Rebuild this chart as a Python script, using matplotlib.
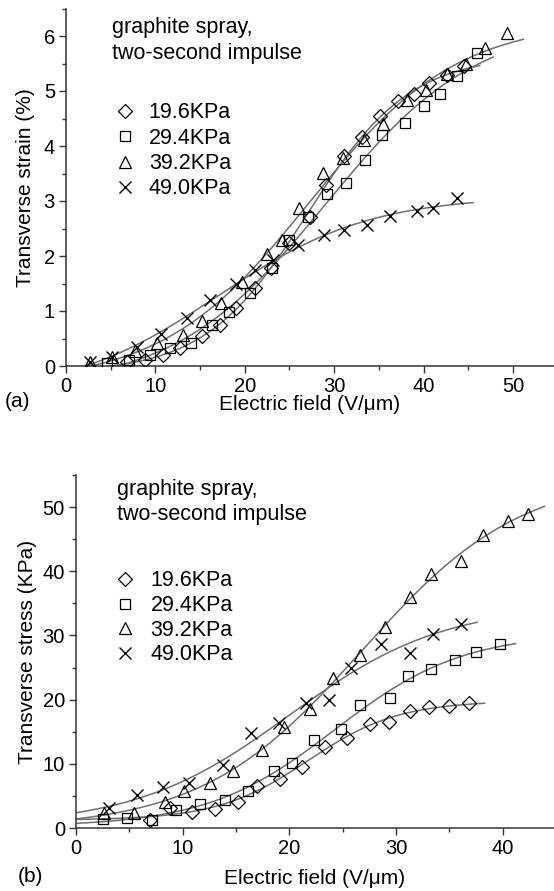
import numpy as np
import matplotlib
matplotlib.use("Agg")
import matplotlib.pyplot as plt
from matplotlib.lines import Line2D
from matplotlib.ticker import MultipleLocator

plt.rcParams['font.family'] = ['Liberation Sans', 'DejaVu Sans']

# ---------------- data: panel (a) transverse strain (%) ----------------
a_x_196 = [6.8, 8.85, 10.9, 12.8, 15.2, 17.2, 19.0, 21.2, 22.9, 24.9, 27.25, 29.1, 31.05, 33.1, 35.1, 37.1, 38.9, 40.6, 42.6, 44.5]
a_y_196 = [0.07, 0.11, 0.20, 0.32, 0.55, 0.75, 1.05, 1.41, 1.79, 2.23, 2.71, 3.29, 3.81, 4.17, 4.55, 4.81, 4.95, 5.14, 5.30, 5.45]

a_x_294 = [4.6, 7.0, 9.4, 11.6, 14.0, 16.3, 18.2, 20.6, 23.0, 24.9, 27.1, 29.2, 31.35, 33.5, 35.35, 37.95, 40.0, 41.9, 43.75, 46.0]
a_y_294 = [0.06, 0.11, 0.20, 0.32, 0.42, 0.75, 0.99, 1.32, 1.79, 2.29, 2.71, 3.13, 3.33, 3.75, 4.20, 4.41, 4.73, 4.94, 5.27, 5.69]

a_x_392 = [2.7, 5.2, 7.7, 10.2, 13.1, 15.2, 17.3, 19.7, 22.5, 24.15, 26.1, 28.7, 31.0, 33.3, 35.5, 38.15, 40.3, 42.6, 44.7, 46.85, 49.35]
a_y_392 = [0.08, 0.17, 0.28, 0.41, 0.56, 0.81, 1.15, 1.53, 2.04, 2.30, 2.87, 3.51, 3.79, 4.11, 4.40, 4.84, 5.02, 5.31, 5.50, 5.79, 6.05]

a_x_490 = [2.7, 5.2, 7.9, 10.6, 13.5, 16.1, 19.0, 21.1, 23.2, 26.0, 28.9, 31.05, 33.7, 36.3, 39.3, 41.1, 43.75]
a_y_490 = [0.08, 0.17, 0.35, 0.59, 0.87, 1.20, 1.50, 1.75, 1.93, 2.20, 2.39, 2.47, 2.56, 2.73, 2.82, 2.87, 3.05]

# ---------------- data: panel (b) transverse stress (KPa) ----------------
b_x_196 = [6.9, 8.8, 10.9, 13.0, 15.2, 17.0, 19.1, 21.2, 23.3, 25.4, 27.6, 29.3, 31.3, 33.1, 35.0, 36.8]
b_y_196 = [1.25, 3.1, 2.5, 2.9, 4.1, 6.5, 7.6, 9.5, 12.55, 14.1, 16.2, 16.5, 18.25, 18.8, 19.0, 19.4]

b_x_294 = [2.56, 4.75, 7.15, 9.4, 11.6, 14.0, 16.1, 18.6, 20.2, 22.3, 24.8, 26.6, 29.4, 31.1, 33.3, 35.5, 37.5, 39.7]
b_y_294 = [1.4, 1.5, 1.25, 2.8, 3.8, 4.35, 5.8, 8.9, 10.1, 13.7, 15.5, 19.1, 20.3, 23.7, 24.8, 26.1, 27.4, 28.6]

b_x_392 = [2.6, 5.4, 8.3, 10.1, 12.6, 14.7, 17.4, 19.5, 21.9, 24.1, 26.6, 29.0, 31.3, 33.3, 36.1, 38.1, 40.5, 42.4]
b_y_392 = [2.4, 2.3, 4.1, 5.8, 6.95, 8.9, 12.1, 15.8, 18.5, 23.4, 26.9, 31.3, 36.0, 39.5, 41.6, 45.7, 47.8, 49.0]

b_x_490 = [3.1, 5.75, 8.2, 10.6, 13.8, 16.4, 19.0, 21.6, 23.7, 25.8, 28.6, 31.3, 33.5, 36.1]
b_y_490 = [3.1, 5.1, 6.4, 7.0, 9.8, 14.8, 16.4, 19.5, 19.9, 24.9, 28.7, 27.3, 30.2, 31.8]

labels = ['19.6KPa', '29.4KPa', '39.2KPa', '49.0KPa']
markers = ['D', 's', '^', 'x']
msizes = [7, 7, 8.5, 9]

fig = plt.figure(figsize=(5.54, 8.91), dpi=100)
axA = fig.add_axes([66/554, (891-366)/891, 488/554, (366-8.5)/891])
axB = fig.add_axes([76/554, 63/891, 478/554, (828-475)/891])

line_col = '#6e6e6e'


def boltzmann_fit(x, y):
    """Least-squares Boltzmann sigmoid y = A2 + (A1-A2)/(1+exp((x-x0)/dx)),
    via grid search on (x0, dx) with A1, A2 solved linearly."""
    x = np.asarray(x, float); y = np.asarray(y, float)
    x0g = np.linspace(0, 90, 361)
    dxg = np.linspace(1, 45, 177)
    X0, DX = np.meshgrid(x0g, dxg, indexing='ij')
    X0 = X0.ravel()[:, None]; DX = DX.ravel()[:, None]
    f = 1.0 / (1.0 + np.exp((x[None, :] - X0) / DX))
    g = 1.0 - f
    a11 = (f * f).sum(1); a12 = (f * g).sum(1); a22 = (g * g).sum(1)
    b1 = (f * y).sum(1); b2 = (g * y).sum(1)
    det = a11 * a22 - a12 ** 2
    det = np.where(np.abs(det) < 1e-12, np.nan, det)
    A1 = (b1 * a22 - b2 * a12) / det
    A2 = (a11 * b2 - a12 * b1) / det
    pred = A1[:, None] * f + A2[:, None] * g
    sse = np.nansum((pred - y[None, :]) ** 2, 1)
    sse = np.where(np.isnan(A1), np.inf, sse)
    i = int(np.argmin(sse))
    p = (A1[i], A2[i], X0[i, 0], DX[i, 0])

    def fn(t):
        return p[1] + (p[0] - p[1]) / (1.0 + np.exp((t - p[2]) / p[3]))
    return fn


def draw(ax, xs_list, ys_list, ext):
    for xs, ys, m, ms in zip(xs_list, ys_list, markers, msizes):
        xs = np.asarray(xs); ys = np.asarray(ys)
        fn = boltzmann_fit(xs, ys)
        xf = np.linspace(0, xs.max() + ext, 300)
        ax.plot(xf, fn(xf), color=line_col, lw=1.1, zorder=2, clip_on=True)
        if m == 'x':
            ax.plot(xs, ys, ls='none', marker=m, ms=ms, mec='black', mew=1.0, zorder=3)
        else:
            ax.plot(xs, ys, ls='none', marker=m, ms=ms, mfc='none', mec='black', mew=0.9, zorder=3)


draw(axA, [a_x_196, a_x_294, a_x_392, a_x_490], [a_y_196, a_y_294, a_y_392, a_y_490], 1.8)
draw(axB, [b_x_196, b_x_294, b_x_392, b_x_490], [b_y_196, b_y_294, b_y_392, b_y_490], 1.5)

axA.set_xlim(0, 54.6)
axA.set_ylim(0, 6.5)
axB.set_xlim(0, 44.8)
axB.set_ylim(0, 55)

axA.xaxis.set_major_locator(MultipleLocator(10))
axA.xaxis.set_minor_locator(MultipleLocator(5))
axA.yaxis.set_major_locator(MultipleLocator(1))
axA.yaxis.set_minor_locator(MultipleLocator(0.5))
axB.xaxis.set_major_locator(MultipleLocator(10))
axB.xaxis.set_minor_locator(MultipleLocator(5))
axB.yaxis.set_major_locator(MultipleLocator(10))
axB.yaxis.set_minor_locator(MultipleLocator(5))

for ax in (axA, axB):
    for s in ('top', 'right'):
        ax.spines[s].set_visible(False)
    for s in ('left', 'bottom'):
        ax.spines[s].set_linewidth(1.1)
        ax.spines[s].set_color('#333333')
    ax.tick_params(which='major', direction='out', length=5, width=1.0, labelsize=14.5, color='#333333', pad=3)
    ax.tick_params(which='minor', direction='out', length=3, width=1.0, color='#333333')

axA.set_xlabel('Electric field (V/μm)', fontsize=15, labelpad=-1)
axB.set_xlabel('Electric field (V/μm)', fontsize=15, labelpad=8)
axA.set_ylabel('Transverse strain (%)', fontsize=15, labelpad=6)
axB.set_ylabel('Transverse stress (KPa)', fontsize=15, labelpad=4)

axA.text(0.094, 0.975, 'graphite spray,\ntwo-second impulse', transform=axA.transAxes,
         fontsize=15.5, va='top', ha='left', linespacing=1.28)
axB.text(0.085, 0.99, 'graphite spray,\ntwo-second impulse', transform=axB.transAxes,
         fontsize=15.5, va='top', ha='left', linespacing=1.28)


def make_handles():
    hs = []
    for m, ms in zip(markers, msizes):
        if m == 'x':
            hs.append(Line2D([], [], ls='none', marker=m, ms=ms, mec='black', mew=1.0))
        else:
            hs.append(Line2D([], [], ls='none', marker=m, ms=ms, mfc='none', mec='black', mew=0.9))
    return hs


fig.legend(handles=make_handles(), labels=labels, loc='upper left',
           bbox_to_anchor=(114.0/554, (891-102.5)/891), frameon=False, fontsize=15.5,
           borderpad=0, borderaxespad=0, handlelength=1.0, handletextpad=0.62, labelspacing=0.2)
fig.legend(handles=make_handles(), labels=labels, loc='upper left',
           bbox_to_anchor=(114.7/554, (891-570.5)/891), frameon=False, fontsize=15.5,
           borderpad=0, borderaxespad=0, handlelength=1.0, handletextpad=0.66, labelspacing=0.17)

fig.text(5/554, 1 - 402/891, '(a)', fontsize=15, va='center', ha='left')
fig.text(18/554, 1 - 876/891, '(b)', fontsize=15, va='center', ha='left')

fig.savefig('out.png', dpi=100, facecolor='white')
